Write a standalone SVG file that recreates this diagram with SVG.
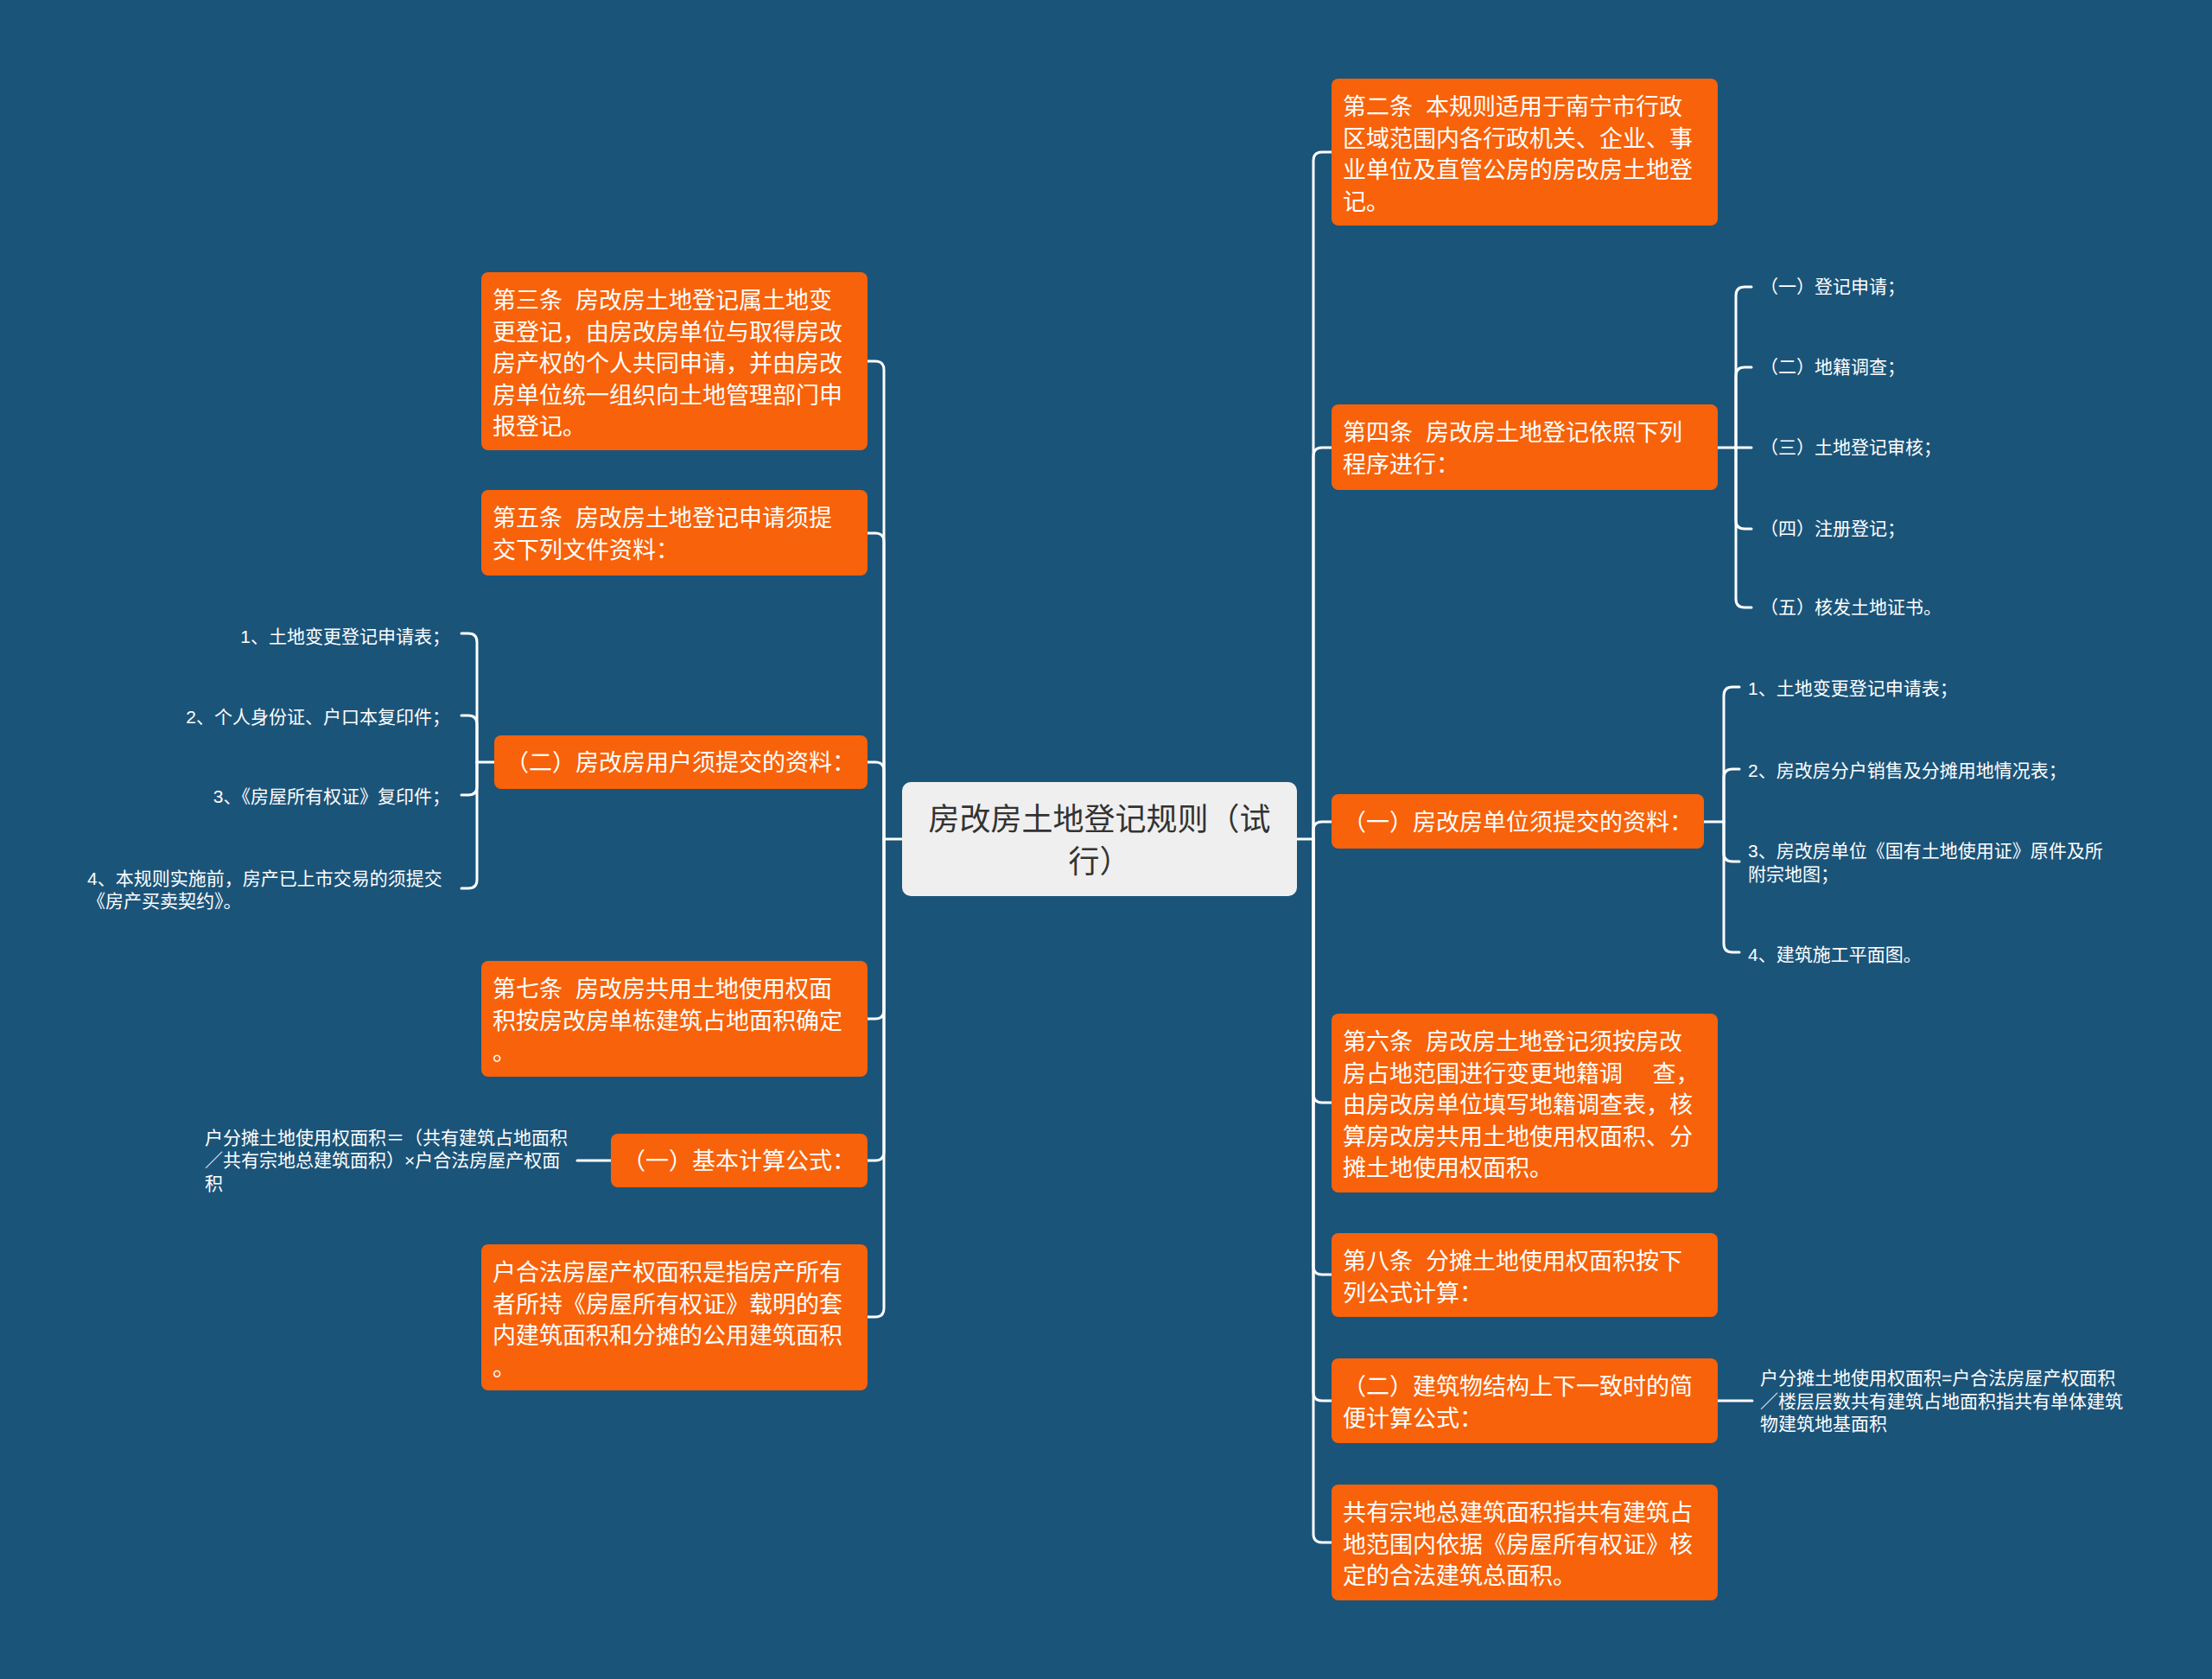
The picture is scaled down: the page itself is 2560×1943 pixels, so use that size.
<svg xmlns="http://www.w3.org/2000/svg" width="2560" height="1943" viewBox="0 0 2560 1943">
<style>
.t{font-family:'Liberation Sans','Noto Sans CJK SC',sans-serif;fill:#ffffff;font-size:27px;white-space:pre}
.s{font-family:'Liberation Sans','Noto Sans CJK SC',sans-serif;fill:#ffffff;font-size:21px;white-space:pre}
.ct{font-family:'Liberation Sans','Noto Sans CJK SC',sans-serif;fill:#333333;font-size:36px}
.box{fill:#f8620a}
.conn path{stroke:#ffffff;stroke-width:3;fill:none;stroke-linecap:round}
</style>
<rect x="0" y="0" width="2560" height="1943" fill="#1b5479"/>
<g class="conn">
<path d="M1044,971 H1023"/>
<path d="M1004,418 H1013 Q1023,418 1023,428 V971"/>
<path d="M1004,617 H1013 Q1023,617 1023,627 V971"/>
<path d="M1004,882 H1013 Q1023,882 1023,892 V971"/>
<path d="M1004,1179 H1013 Q1023,1179 1023,1169 V971"/>
<path d="M1004,1343 H1013 Q1023,1343 1023,1333 V971"/>
<path d="M1004,1524 H1013 Q1023,1524 1023,1514 V971"/>
<path d="M1501,971 H1520"/>
<path d="M1541,176 H1530 Q1520,176 1520,186 V971"/>
<path d="M1541,518 H1530 Q1520,518 1520,528 V971"/>
<path d="M1541,951 H1530 Q1520,951 1520,961 V971"/>
<path d="M1541,1276 H1530 Q1520,1276 1520,1266 V971"/>
<path d="M1541,1475 H1530 Q1520,1475 1520,1465 V971"/>
<path d="M1541,1621 H1530 Q1520,1621 1520,1611 V971"/>
<path d="M1541,1785 H1530 Q1520,1785 1520,1775 V971"/>
<path d="M572,882 H552"/>
<path d="M534,733 H542 Q552,733 552,743 V882"/>
<path d="M534,828 H542 Q552,828 552,838 V882"/>
<path d="M534,920 H542 Q552,920 552,910 V882"/>
<path d="M534,1028 H542 Q552,1028 552,1018 V882"/>
<path d="M1987,518 H2027"/>
<path d="M2027,332 H2019 Q2009,332 2009,342 V518"/>
<path d="M2027,425 H2019 Q2009,425 2009,435 V518"/>
<path d="M2027,612 H2019 Q2009,612 2009,602 V518"/>
<path d="M2027,703 H2019 Q2009,703 2009,693 V518"/>
<path d="M1972,951 H1995"/>
<path d="M2013,795 H2005 Q1995,795 1995,805 V951"/>
<path d="M2013,890 H2005 Q1995,890 1995,900 V951"/>
<path d="M2013,997 H2005 Q1995,997 1995,987 V951"/>
<path d="M2013,1102 H2005 Q1995,1102 1995,1092 V951"/>
<path d="M707,1343 H668"/>
<path d="M1988,1621 H2028"/>
</g>
<g id="center">
<rect x="1044" y="905" width="457" height="132" rx="10" fill="#efefef"/>
<text class="ct" x="1272.5" y="961" text-anchor="middle">房改房土地登记规则（试</text>
<text class="ct" x="1272.5" y="1010" text-anchor="middle">行）</text>
</g>
<g id="n-art3">
<rect class="box" x="557" y="315" width="447" height="206" rx="8"/>
<text class="t" x="570" y="357">第三条  房改房土地登记属土地变</text>
<text class="t" x="570" y="393.5">更登记，由房改房单位与取得房改</text>
<text class="t" x="570" y="430">房产权的个人共同申请，并由房改</text>
<text class="t" x="570" y="466.5">房单位统一组织向土地管理部门申</text>
<text class="t" x="570" y="503">报登记。</text>
</g>
<g id="n-art5">
<rect class="box" x="557" y="567" width="447" height="99" rx="8"/>
<text class="t" x="570" y="609">第五条  房改房土地登记申请须提</text>
<text class="t" x="570" y="645.5">交下列文件资料：</text>
</g>
<g id="n-user">
<rect class="box" x="572" y="851" width="432" height="62" rx="8"/>
<text class="t" x="585" y="892">（二）房改房用户须提交的资料：</text>
</g>
<g id="n-user-1"><text class="s" x="521" y="744" text-anchor="end">1、土地变更登记申请表；</text></g>
<g id="n-user-2"><text class="s" x="521" y="837" text-anchor="end">2、个人身份证、户口本复印件；</text></g>
<g id="n-user-3"><text class="s" x="521" y="929" text-anchor="end">3、《房屋所有权证》复印件；</text></g>
<g id="n-user-4">
<text class="s" x="101" y="1024">4、本规则实施前，房产已上市交易的须提交</text>
<text class="s" x="101" y="1050">《房产买卖契约》。</text>
</g>
<g id="n-art7">
<rect class="box" x="557" y="1112" width="447" height="134" rx="8"/>
<text class="t" x="570" y="1154">第七条  房改房共用土地使用权面</text>
<text class="t" x="570" y="1190.5">积按房改房单栋建筑占地面积确定</text>
<text class="t" x="570" y="1227">。</text>
</g>
<g id="n-basic">
<rect class="box" x="707" y="1312" width="297" height="62" rx="8"/>
<text class="t" x="720" y="1353">（一）基本计算公式：</text>
</g>
<g id="n-basic-f">
<text class="s" x="237" y="1324">户分摊土地使用权面积＝（共有建筑占地面积</text>
<text class="s" x="237" y="1350">／共有宗地总建筑面积）×户合法房屋产权面</text>
<text class="s" x="237" y="1377">积</text>
</g>
<g id="n-hhf">
<rect class="box" x="557" y="1440" width="447" height="169" rx="8"/>
<text class="t" x="570" y="1482">户合法房屋产权面积是指房产所有</text>
<text class="t" x="570" y="1518.5">者所持《房屋所有权证》载明的套</text>
<text class="t" x="570" y="1555">内建筑面积和分摊的公用建筑面积</text>
<text class="t" x="570" y="1591.5">。</text>
</g>
<g id="n-art2">
<rect class="box" x="1541" y="91" width="447" height="170" rx="8"/>
<text class="t" x="1554" y="133">第二条  本规则适用于南宁市行政</text>
<text class="t" x="1554" y="169.5">区域范围内各行政机关、企业、事</text>
<text class="t" x="1554" y="206">业单位及直管公房的房改房土地登</text>
<text class="t" x="1554" y="242.5">记。</text>
</g>
<g id="n-art4">
<rect class="box" x="1541" y="468" width="447" height="99" rx="8"/>
<text class="t" x="1554" y="510">第四条  房改房土地登记依照下列</text>
<text class="t" x="1554" y="546.5">程序进行：</text>
</g>
<g id="n-art4-1"><text class="s" x="2037" y="339">（一）登记申请；</text></g>
<g id="n-art4-2"><text class="s" x="2037" y="432">（二）地籍调查；</text></g>
<g id="n-art4-3"><text class="s" x="2037" y="525">（三）土地登记审核；</text></g>
<g id="n-art4-4"><text class="s" x="2037" y="619">（四）注册登记；</text></g>
<g id="n-art4-5"><text class="s" x="2037" y="710">（五）核发土地证书。</text></g>
<g id="n-unit">
<rect class="box" x="1541" y="919" width="431" height="63" rx="8"/>
<text class="t" x="1554" y="961">（一）房改房单位须提交的资料：</text>
</g>
<g id="n-unit-1"><text class="s" x="2023" y="804">1、土地变更登记申请表；</text></g>
<g id="n-unit-2"><text class="s" x="2023" y="899">2、房改房分户销售及分摊用地情况表；</text></g>
<g id="n-unit-3">
<text class="s" x="2023" y="992">3、房改房单位《国有土地使用证》原件及所</text>
<text class="s" x="2023" y="1019">附宗地图；</text>
</g>
<g id="n-unit-4"><text class="s" x="2023" y="1112">4、建筑施工平面图。</text></g>
<g id="n-art6">
<rect class="box" x="1541" y="1173" width="447" height="207" rx="8"/>
<text class="t" x="1554" y="1215">第六条  房改房土地登记须按房改</text>
<text class="t" x="1554" y="1251.5">房占地范围进行变更地籍调　 查，</text>
<text class="t" x="1554" y="1288">由房改房单位填写地籍调查表，核</text>
<text class="t" x="1554" y="1324.5">算房改房共用土地使用权面积、分</text>
<text class="t" x="1554" y="1361">摊土地使用权面积。</text>
</g>
<g id="n-art8">
<rect class="box" x="1541" y="1427" width="447" height="97" rx="8"/>
<text class="t" x="1554" y="1469">第八条  分摊土地使用权面积按下</text>
<text class="t" x="1554" y="1505.5">列公式计算：</text>
</g>
<g id="n-simple">
<rect class="box" x="1541" y="1572" width="447" height="98" rx="8"/>
<text class="t" x="1554" y="1614">（二）建筑物结构上下一致时的简</text>
<text class="t" x="1554" y="1650.5">便计算公式：</text>
</g>
<g id="n-simple-f">
<text class="s" x="2037" y="1602">户分摊土地使用权面积=户合法房屋产权面积</text>
<text class="s" x="2037" y="1629">／楼层层数共有建筑占地面积指共有单体建筑</text>
<text class="s" x="2037" y="1655">物建筑地基面积</text>
</g>
<g id="n-total">
<rect class="box" x="1541" y="1718" width="447" height="134" rx="8"/>
<text class="t" x="1554" y="1760">共有宗地总建筑面积指共有建筑占</text>
<text class="t" x="1554" y="1796.5">地范围内依据《房屋所有权证》核</text>
<text class="t" x="1554" y="1833">定的合法建筑总面积。</text>
</g>
</svg>
